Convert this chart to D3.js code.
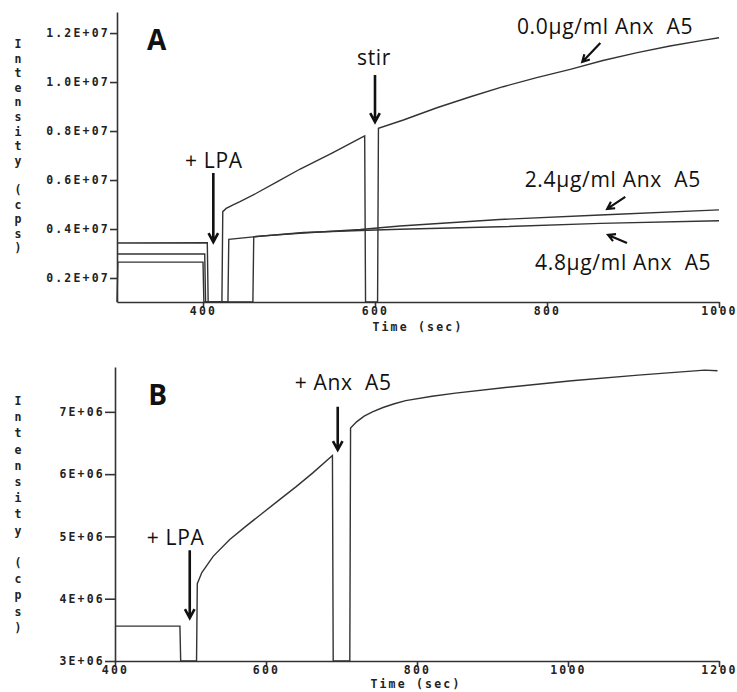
<!DOCTYPE html>
<html>
<head>
<meta charset="utf-8">
<script src="https://cdn.jsdelivr.net/npm/d3@7"></script>
<style>
  body { margin: 0; background: #fff; }
  .tick text, .lab { font-family: 'DejaVu Sans Mono', 'Liberation Mono', monospace; font-weight: bold; font-size: 11.5px; letter-spacing: 2.2px; fill: #222; }
  .note { font-family: 'Open Sans', 'Noto Sans', sans-serif; font-size: 21px; letter-spacing: 0.7px; fill: #111; white-space: pre; }
  .big { font-family: 'Open Sans', 'Noto Sans', sans-serif; font-size: 28px; font-weight: bold; fill: #111; }
</style>
</head>
<body>
<div id="chart"></div>
<script>
// panel A: time (sec) vs intensity (cps), three Anx A5 concentrations
var anx00 = [[300, 3.43e6], [405, 3.44e6], [406, 1.02e6], [422, 1.02e6], [423, 4.71e6], [427, 4.84e6],
    [435, 4.99e6], [443, 5.12e6], [462, 5.46e6], [486, 5.92e6], [513, 6.45e6], [550, 7.1e6], [583, 7.71e6], [588, 7.8e6],
    [589, 1.02e6], [603, 1.02e6], [604, 8.11e6], [633, 8.45e6], [672, 8.95e6], [711, 9.4e6], [749, 9.81e6],
    [788, 10.18e6], [827, 10.52e6], [865, 10.88e6], [905, 11.2e6], [943, 11.47e6], [981, 11.7e6], [1000, 11.81e6]]
var anx24 = [[300, 2.98e6], [402, 2.98e6], [403, 1.02e6], [429, 1.02e6], [430, 3.58e6], [470, 3.72e6],
    [517, 3.84e6], [583, 3.98e6], [629, 4.12e6], [745, 4.39e6], [862, 4.57e6], [1000, 4.78e6]]
var anx48 = [[300, 1.02e6], [301, 2.65e6], [400, 2.65e6], [401, 1.02e6], [458, 1.02e6], [459, 3.68e6],
    [517, 3.86e6], [583, 3.94e6], [629, 3.99e6], [745, 4.09e6], [862, 4.23e6], [1000, 4.34e6]]

// panel B: single trace, LPA then Anx A5
var traceB = [[400, 3.56e6], [486, 3.56e6], [487, 3.0e6], [508, 3.0e6], [509, 4.24e6], [515, 4.42e6],
    [530, 4.68e6], [552, 4.95e6], [574, 5.17e6], [596, 5.38e6], [618, 5.59e6], [640, 5.8e6], [662, 6.02e6],
    [688, 6.3e6], [689, 3.0e6], [711, 3.0e6], [712, 6.74e6], [720, 6.84e6], [730, 6.93e6], [741, 7.0e6],
    [755, 7.07e6], [770, 7.13e6], [785, 7.18e6], [820, 7.25e6], [851, 7.3e6], [917, 7.39e6], [1005, 7.5e6],
    [1093, 7.59e6], [1181, 7.67e6], [1198, 7.66e6]]

// ticks
var aXTicks = [400, 600, 800, 1000]
var aYTicks = [2e6, 4e6, 6e6, 8e6, 10e6, 12e6]
var aYLabels = ['0.2E+07', '0.4E+07', '0.6E+07', '0.8E+07', '1.0E+07', '1.2E+07']
var bXTicks = [400, 600, 800, 1000, 1200]
var bYTicks = [3e6, 4e6, 5e6, 6e6, 7e6]
var bYLabels = ['3E+06', '4E+06', '5E+06', '6E+06', '7E+06']

// annotations in data units: text [t, v, label], arrows [t0, v0, t1, v1, thick]
var aNotes = [[379, 6.49e6, '+ LPA'], [579, 10.7e6, 'stir'], [765, 11.96e6, '0.0\u00b5g/ml Anx  A5'],
    [774, 5.72e6, '2.4\u00b5g/ml Anx  A5'], [786, 2.33e6, '4.8\u00b5g/ml Anx  A5']]
var aArrows = [[412, 6.29e6, 412, 3.47e6, 1], [600, 10.29e6, 600, 8.37e6, 1],
    [862, 11.59e6, 841, 10.82e6, 0], [891, 5.31e6, 870, 4.82e6, 0], [893, 3.43e6, 871, 3.76e6, 0]]
var bNotes = [[442, 4.86e6, '+ LPA'], [638, 7.35e6, '+ Anx  A5']]
var bArrows = [[499, 4.78e6, 499, 3.69e6, 1], [695, 7.08e6, 695, 6.39e6, 1]]

var svg = d3.select('#chart')
    .append('svg')
    .attr('width', 737)
    .attr('height', 692)

function panel(p) {
    var g = svg.append('g')
    var x = d3.scaleLinear().domain(p.xDom).range(p.xRange)
    var y = d3.scaleLinear().domain(p.yDom).range(p.yRange)

    var xaxis = d3.axisBottom(x).tickValues(p.xTicks).tickFormat(d3.format('d'))
        .tickSize(6).tickSizeOuter(0).tickPadding(-1)
    g.append('g')
        .attr('transform', 'translate(0,' + p.yRange[0] + ')')
        .call(xaxis)

    var yaxis = d3.axisLeft(y).tickValues(p.yTicks).tickFormat((d, i) => p.yLabels[i])
        .tickSize(p.yTickLen).tickSizeOuter(0).tickPadding(0)
    g.append('g')
        .attr('transform', 'translate(' + p.xRange[0] + ',0)')
        .call(yaxis)

    g.selectAll('.domain, .tick line').attr('stroke', '#333').attr('stroke-width', 1.6)

    // stacked y label
    var ylab = g.append('text').attr('class', 'lab').attr('text-anchor', 'middle')
    'Intensity (cps)'.split('').forEach((c, i) => {
        ylab.append('tspan').attr('x', 19).attr('y', p.labTop + i * p.labStep).text(c)
    })
    g.append('text').attr('class', 'lab').attr('text-anchor', 'middle')
        .attr('x', p.xlabX).attr('y', p.xlabY).text('Time (sec)')

    var line = d3.line().x(d => x(d[0])).y(d => y(d[1]))
    g.selectAll('path.trace')
        .data(p.series)
        .enter()
        .append('path')
        .attr('class', 'trace')
        .attr('d', line)
        .attr('fill', 'none')
        .attr('stroke', '#333')
        .attr('stroke-width', 1.4)

    g.append('text').attr('class', 'big')
        .attr('x', x(p.letter[0])).attr('y', y(p.letter[1])).text(p.letter[2])

    g.selectAll('text.note')
        .data(p.notes)
        .enter()
        .append('text')
        .attr('class', 'note')
        .attr('x', d => x(d[0]))
        .attr('y', d => y(d[1]))
        .text(d => d[2])

    // arrows with open V heads
    g.selectAll('path.arrow')
        .data(p.arrows)
        .enter()
        .append('path')
        .attr('class', 'arrow')
        .attr('fill', 'none')
        .attr('stroke', '#111')
        .attr('stroke-width', d => d[4] ? 2.6 : 2.2)
        .attr('d', d => {
            var x0 = x(d[0]), y0 = y(d[1]), x1 = x(d[2]), y1 = y(d[3])
            var a = Math.atan2(y0 - y1, x0 - x1), L = d[4] ? 10 : 8, s = 0.5
            return 'M' + x0 + ',' + y0 + 'L' + x1 + ',' + y1 +
                'M' + (x1 + L * Math.cos(a + s)) + ',' + (y1 + L * Math.sin(a + s)) +
                'L' + x1 + ',' + y1 +
                'L' + (x1 + L * Math.cos(a - s)) + ',' + (y1 + L * Math.sin(a - s))
        })
}

panel({
    xDom: [300, 1000], xRange: [117, 719], yDom: [1.02e6, 12.86e6], yRange: [302, 12],
    xTicks: aXTicks, yTicks: aYTicks, yLabels: aYLabels, yTickLen: 7,
    labTop: 48, labStep: 14.6, xlabX: 418, xlabY: 331,
    series: [anx00, anx24, anx48], letter: [335, 11.31e6, 'A'], notes: aNotes, arrows: aArrows
})

panel({
    xDom: [400, 1200], xRange: [115, 719], yDom: [3e6, 7.72e6], yRange: [661, 367],
    xTicks: bXTicks, yTicks: bYTicks, yLabels: bYLabels, yTickLen: 10,
    labTop: 405, labStep: 16.2, xlabX: 416, xlabY: 688,
    series: [traceB], letter: [444, 7.11e6, 'B'], notes: bNotes, arrows: bArrows
})
</script>
</body>
</html>
